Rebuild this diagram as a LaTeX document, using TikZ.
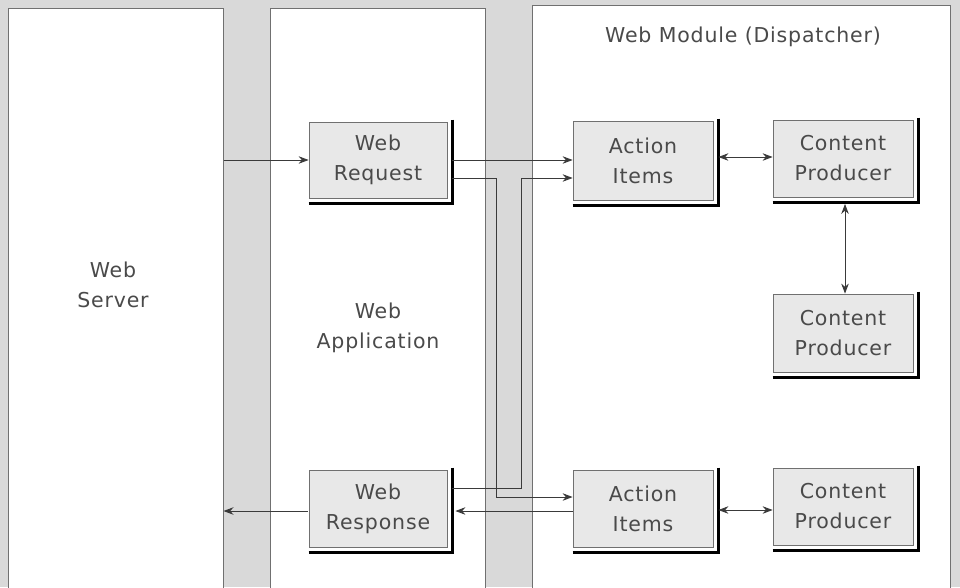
\documentclass[tikz,border=0pt]{standalone}
\usepackage{fontspec}
\newfontfamily\lblfont[LetterSpace=4]{DejaVu Sans}
\usetikzlibrary{arrows.meta}
\definecolor{bggrey}{HTML}{D9D9D9}
\definecolor{boxgrey}{HTML}{E8E8E8}
\definecolor{txtgrey}{HTML}{4A4A4A}
\definecolor{linegrey}{HTML}{3A3A3A}
\definecolor{panelline}{HTML}{707070}
\tikzset{
  panel/.style={draw=panelline, line width=1pt, fill=white, inner sep=0pt},
  lbl/.style={font=\lblfont\fontsize{20.5}{30}\selectfont, text=txtgrey, align=center, inner sep=0pt},
  comp/.style={draw=panelline, line width=0.8pt, fill=boxgrey, inner sep=0pt,
    font=\lblfont\fontsize{20.5}{30}\selectfont, text=txtgrey, align=center},
  shadowline/.style={draw=black, line width=3pt},
  arr/.style={draw=linegrey, line width=0.9pt, -{Stealth[length=10pt,width=7.5pt]}},
  darr/.style={draw=linegrey, line width=0.9pt, {Stealth[length=10pt,width=7.5pt]}-{Stealth[length=10pt,width=7.5pt]}},
}
\newcommand{\boxshadow}[1]{%
  \draw[shadowline] ([xshift=5pt,yshift=2pt]#1.north east) -- ([xshift=5pt,yshift=-6.5pt]#1.south east);
  \draw[shadowline] ([yshift=-5pt]#1.south west) -- ([xshift=6.5pt,yshift=-5pt]#1.south east);
}
\begin{document}
\begin{tikzpicture}[x=1pt,y=-1pt]
\useasboundingbox (0,0) rectangle (960,587);
\fill[bggrey] (0,0) rectangle (960,587);
% panels
\node[panel, minimum width=215pt, minimum height=592pt] (srv) at (115.5,304) {};
\node[panel, minimum width=215pt, minimum height=592pt] (app) at (377.5,304) {};
\node[panel, minimum width=418pt, minimum height=595pt] (mod) at (741,302.5) {};
\node[lbl] (srvlbl) at (113,285) {Web\\Server};
\node[lbl] (applbl) at (378,328) {Web\\Application};
\node[lbl] (modlbl) at (743,37) {Web Module (Dispatcher)};
% components
\node[comp, minimum width=138pt, minimum height=76pt] (req) at (378,160) {Web\\Request};
\node[comp, minimum width=138pt, minimum height=77pt] (resp) at (378,508.5) {Web\\Response};
\node[comp, minimum width=140pt, minimum height=79pt] (ait) at (643,160.5) {Action\\Items};
\node[comp, minimum width=140pt, minimum height=77pt] (aib) at (643,508.5) {Action\\Items};
\node[comp, minimum width=140pt, minimum height=77pt] (cpt) at (843,158.5) {Content\\Producer};
\node[comp, minimum width=140pt, minimum height=78pt] (cpm) at (843,333) {Content\\Producer};
\node[comp, minimum width=140pt, minimum height=77pt] (cpb) at (843,506.5) {Content\\Producer};
\boxshadow{req}
\boxshadow{resp}
\boxshadow{ait}
\boxshadow{aib}
\boxshadow{cpt}
\boxshadow{cpm}
\boxshadow{cpb}
% connectors
\draw[arr] (srv.east |- req.west) -- (req.west);
\draw[arr] ([xshift=-1pt,yshift=-2.5pt]resp.west) -- ([yshift=-2.5pt]resp.west -| srv.east);
\draw[arr] ([xshift=5pt]req.east) -- (ait.west |- req.east);
\draw[arr] ([xshift=5pt,yshift=-18pt]req.east) -| ([xshift=-76pt,yshift=11.5pt]aib.west) -- ([yshift=11.5pt]aib.west);
\draw[arr] ([xshift=5pt,yshift=20.5pt]resp.east) -| ([xshift=-51pt,yshift=-17.5pt]ait.west) -- ([yshift=-17.5pt]ait.west);
\draw[arr] ([yshift=-2.5pt]aib.west) -- ([xshift=8pt,yshift=-2.5pt]resp.east);
\draw[darr] ([xshift=5pt,yshift=3.5pt]ait.east) -- ([yshift=1.5pt]cpt.west);
\draw[darr] ([xshift=2pt,yshift=-6.5pt]cpt.south) -- ([xshift=2pt]cpm.north);
\draw[darr] ([xshift=5pt,yshift=-1.5pt]aib.east) -- ([yshift=-3.5pt]cpb.west);
\end{tikzpicture}
\end{document}
